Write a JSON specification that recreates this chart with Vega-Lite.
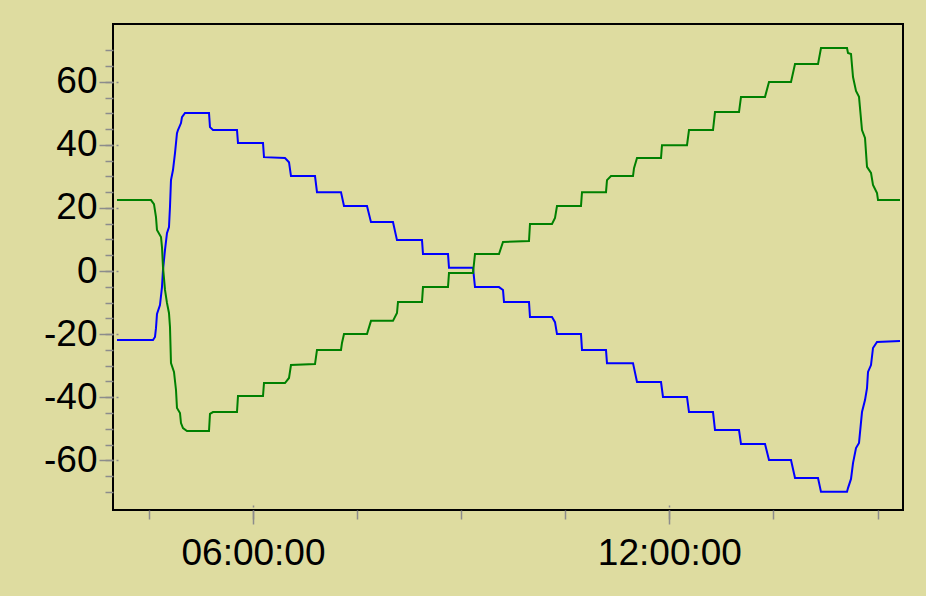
{
  "$schema": "https://vega.github.io/schema/vega-lite/v6.json",
  "width": 790,
  "height": 486,
  "autosize": "none",
  "padding": {"left": 113, "top": 24, "right": 23, "bottom": 86},
  "background": "#dedca0",
  "view": {"stroke": "#000000", "strokeWidth": 2, "fill": "#dedca0"},
  "data": {"values": [
    {"t": "2024-01-01T04:02:25Z", "s": "blue", "v": -21.9},
    {"t": "2024-01-01T04:33:32Z", "s": "blue", "v": -21.9},
    {"t": "2024-01-01T04:35:16Z", "s": "blue", "v": -20.9},
    {"t": "2024-01-01T04:36:08Z", "s": "blue", "v": -18.1},
    {"t": "2024-01-01T04:37:00Z", "s": "blue", "v": -13.6},
    {"t": "2024-01-01T04:39:35Z", "s": "blue", "v": -10.8},
    {"t": "2024-01-01T04:41:19Z", "s": "blue", "v": -5.1},
    {"t": "2024-01-01T04:42:11Z", "s": "blue", "v": 0.3},
    {"t": "2024-01-01T04:43:55Z", "s": "blue", "v": 6.7},
    {"t": "2024-01-01T04:45:38Z", "s": "blue", "v": 12.0},
    {"t": "2024-01-01T04:47:22Z", "s": "blue", "v": 13.9},
    {"t": "2024-01-01T04:48:14Z", "s": "blue", "v": 20.3},
    {"t": "2024-01-01T04:49:06Z", "s": "blue", "v": 28.8},
    {"t": "2024-01-01T04:50:50Z", "s": "blue", "v": 32.0},
    {"t": "2024-01-01T04:52:34Z", "s": "blue", "v": 37.4},
    {"t": "2024-01-01T04:54:17Z", "s": "blue", "v": 43.7},
    {"t": "2024-01-01T04:55:09Z", "s": "blue", "v": 44.7},
    {"t": "2024-01-01T04:57:45Z", "s": "blue", "v": 46.9},
    {"t": "2024-01-01T04:58:37Z", "s": "blue", "v": 48.8},
    {"t": "2024-01-01T05:01:13Z", "s": "blue", "v": 50.1},
    {"t": "2024-01-01T05:21:58Z", "s": "blue", "v": 50.1},
    {"t": "2024-01-01T05:22:49Z", "s": "blue", "v": 45.6},
    {"t": "2024-01-01T05:25:25Z", "s": "blue", "v": 44.7},
    {"t": "2024-01-01T05:46:10Z", "s": "blue", "v": 44.7},
    {"t": "2024-01-01T05:47:02Z", "s": "blue", "v": 40.6},
    {"t": "2024-01-01T06:08:39Z", "s": "blue", "v": 40.6},
    {"t": "2024-01-01T06:09:31Z", "s": "blue", "v": 36.1},
    {"t": "2024-01-01T06:27:40Z", "s": "blue", "v": 35.8},
    {"t": "2024-01-01T06:31:08Z", "s": "blue", "v": 34.5},
    {"t": "2024-01-01T06:32:51Z", "s": "blue", "v": 30.1},
    {"t": "2024-01-01T06:53:37Z", "s": "blue", "v": 30.1},
    {"t": "2024-01-01T06:55:20Z", "s": "blue", "v": 25.0},
    {"t": "2024-01-01T07:16:05Z", "s": "blue", "v": 25.0},
    {"t": "2024-01-01T07:18:41Z", "s": "blue", "v": 20.6},
    {"t": "2024-01-01T07:38:34Z", "s": "blue", "v": 20.6},
    {"t": "2024-01-01T07:42:01Z", "s": "blue", "v": 15.5},
    {"t": "2024-01-01T08:01:02Z", "s": "blue", "v": 15.5},
    {"t": "2024-01-01T08:04:30Z", "s": "blue", "v": 9.8},
    {"t": "2024-01-01T08:26:07Z", "s": "blue", "v": 9.8},
    {"t": "2024-01-01T08:26:59Z", "s": "blue", "v": 5.4},
    {"t": "2024-01-01T08:48:36Z", "s": "blue", "v": 5.4},
    {"t": "2024-01-01T08:49:28Z", "s": "blue", "v": 1.0},
    {"t": "2024-01-01T09:10:13Z", "s": "blue", "v": 1.0},
    {"t": "2024-01-01T09:11:56Z", "s": "blue", "v": -5.1},
    {"t": "2024-01-01T09:32:41Z", "s": "blue", "v": -5.1},
    {"t": "2024-01-01T09:36:09Z", "s": "blue", "v": -6.0},
    {"t": "2024-01-01T09:37:01Z", "s": "blue", "v": -9.8},
    {"t": "2024-01-01T09:58:38Z", "s": "blue", "v": -9.8},
    {"t": "2024-01-01T09:59:29Z", "s": "blue", "v": -14.6},
    {"t": "2024-01-01T10:18:31Z", "s": "blue", "v": -14.6},
    {"t": "2024-01-01T10:21:07Z", "s": "blue", "v": -16.2},
    {"t": "2024-01-01T10:22:50Z", "s": "blue", "v": -20.0},
    {"t": "2024-01-01T10:43:35Z", "s": "blue", "v": -20.0},
    {"t": "2024-01-01T10:44:27Z", "s": "blue", "v": -25.0},
    {"t": "2024-01-01T11:05:12Z", "s": "blue", "v": -25.0},
    {"t": "2024-01-01T11:06:04Z", "s": "blue", "v": -29.2},
    {"t": "2024-01-01T11:28:33Z", "s": "blue", "v": -29.2},
    {"t": "2024-01-01T11:32:01Z", "s": "blue", "v": -35.2},
    {"t": "2024-01-01T11:52:46Z", "s": "blue", "v": -35.2},
    {"t": "2024-01-01T11:54:29Z", "s": "blue", "v": -39.9},
    {"t": "2024-01-01T12:15:14Z", "s": "blue", "v": -39.9},
    {"t": "2024-01-01T12:16:58Z", "s": "blue", "v": -44.7},
    {"t": "2024-01-01T12:37:43Z", "s": "blue", "v": -44.7},
    {"t": "2024-01-01T12:39:27Z", "s": "blue", "v": -50.4},
    {"t": "2024-01-01T13:00:12Z", "s": "blue", "v": -50.4},
    {"t": "2024-01-01T13:01:55Z", "s": "blue", "v": -54.8},
    {"t": "2024-01-01T13:22:41Z", "s": "blue", "v": -54.8},
    {"t": "2024-01-01T13:26:08Z", "s": "blue", "v": -59.9},
    {"t": "2024-01-01T13:45:09Z", "s": "blue", "v": -59.9},
    {"t": "2024-01-01T13:48:37Z", "s": "blue", "v": -65.6},
    {"t": "2024-01-01T14:08:30Z", "s": "blue", "v": -65.6},
    {"t": "2024-01-01T14:11:05Z", "s": "blue", "v": -70.0},
    {"t": "2024-01-01T14:33:34Z", "s": "blue", "v": -70.0},
    {"t": "2024-01-01T14:34:26Z", "s": "blue", "v": -68.8},
    {"t": "2024-01-01T14:37:02Z", "s": "blue", "v": -65.9},
    {"t": "2024-01-01T14:38:46Z", "s": "blue", "v": -60.9},
    {"t": "2024-01-01T14:41:21Z", "s": "blue", "v": -56.1},
    {"t": "2024-01-01T14:43:57Z", "s": "blue", "v": -54.5},
    {"t": "2024-01-01T14:46:32Z", "s": "blue", "v": -44.7},
    {"t": "2024-01-01T14:49:08Z", "s": "blue", "v": -40.9},
    {"t": "2024-01-01T14:50:52Z", "s": "blue", "v": -37.1},
    {"t": "2024-01-01T14:51:44Z", "s": "blue", "v": -32.0},
    {"t": "2024-01-01T14:54:19Z", "s": "blue", "v": -29.8},
    {"t": "2024-01-01T14:56:03Z", "s": "blue", "v": -24.4},
    {"t": "2024-01-01T14:59:31Z", "s": "blue", "v": -22.5},
    {"t": "2024-01-01T15:19:24Z", "s": "blue", "v": -22.2},
    {"t": "2024-01-01T04:02:25Z", "s": "green", "v": 22.5},
    {"t": "2024-01-01T04:31:49Z", "s": "green", "v": 22.5},
    {"t": "2024-01-01T04:34:24Z", "s": "green", "v": 21.2},
    {"t": "2024-01-01T04:36:08Z", "s": "green", "v": 17.1},
    {"t": "2024-01-01T04:37:00Z", "s": "green", "v": 13.0},
    {"t": "2024-01-01T04:40:28Z", "s": "green", "v": 10.8},
    {"t": "2024-01-01T04:41:19Z", "s": "green", "v": 7.6},
    {"t": "2024-01-01T04:42:11Z", "s": "green", "v": 1.3},
    {"t": "2024-01-01T04:43:55Z", "s": "green", "v": -6.0},
    {"t": "2024-01-01T04:45:38Z", "s": "green", "v": -10.1},
    {"t": "2024-01-01T04:47:22Z", "s": "green", "v": -13.3},
    {"t": "2024-01-01T04:48:14Z", "s": "green", "v": -17.7},
    {"t": "2024-01-01T04:49:06Z", "s": "green", "v": -29.2},
    {"t": "2024-01-01T04:51:42Z", "s": "green", "v": -32.0},
    {"t": "2024-01-01T04:53:26Z", "s": "green", "v": -37.7},
    {"t": "2024-01-01T04:54:17Z", "s": "green", "v": -43.4},
    {"t": "2024-01-01T04:56:53Z", "s": "green", "v": -45.0},
    {"t": "2024-01-01T04:57:45Z", "s": "green", "v": -48.2},
    {"t": "2024-01-01T04:59:29Z", "s": "green", "v": -49.8},
    {"t": "2024-01-01T05:02:56Z", "s": "green", "v": -50.7},
    {"t": "2024-01-01T05:21:58Z", "s": "green", "v": -50.7},
    {"t": "2024-01-01T05:22:49Z", "s": "green", "v": -45.3},
    {"t": "2024-01-01T05:25:25Z", "s": "green", "v": -44.7},
    {"t": "2024-01-01T05:46:10Z", "s": "green", "v": -44.7},
    {"t": "2024-01-01T05:47:02Z", "s": "green", "v": -39.6},
    {"t": "2024-01-01T06:08:39Z", "s": "green", "v": -39.6},
    {"t": "2024-01-01T06:09:31Z", "s": "green", "v": -35.5},
    {"t": "2024-01-01T06:27:40Z", "s": "green", "v": -35.5},
    {"t": "2024-01-01T06:31:08Z", "s": "green", "v": -33.9},
    {"t": "2024-01-01T06:32:51Z", "s": "green", "v": -29.8},
    {"t": "2024-01-01T06:53:37Z", "s": "green", "v": -29.5},
    {"t": "2024-01-01T06:55:20Z", "s": "green", "v": -25.0},
    {"t": "2024-01-01T07:16:05Z", "s": "green", "v": -25.0},
    {"t": "2024-01-01T07:16:57Z", "s": "green", "v": -22.8},
    {"t": "2024-01-01T07:18:41Z", "s": "green", "v": -20.0},
    {"t": "2024-01-01T07:38:34Z", "s": "green", "v": -20.0},
    {"t": "2024-01-01T07:42:01Z", "s": "green", "v": -15.8},
    {"t": "2024-01-01T08:01:02Z", "s": "green", "v": -15.8},
    {"t": "2024-01-01T08:04:30Z", "s": "green", "v": -13.3},
    {"t": "2024-01-01T08:05:22Z", "s": "green", "v": -9.8},
    {"t": "2024-01-01T08:26:07Z", "s": "green", "v": -9.8},
    {"t": "2024-01-01T08:26:59Z", "s": "green", "v": -5.1},
    {"t": "2024-01-01T08:48:36Z", "s": "green", "v": -5.1},
    {"t": "2024-01-01T08:49:28Z", "s": "green", "v": -0.6},
    {"t": "2024-01-01T09:10:13Z", "s": "green", "v": -0.6},
    {"t": "2024-01-01T09:11:56Z", "s": "green", "v": 5.4},
    {"t": "2024-01-01T09:32:41Z", "s": "green", "v": 5.4},
    {"t": "2024-01-01T09:36:09Z", "s": "green", "v": 9.2},
    {"t": "2024-01-01T09:58:38Z", "s": "green", "v": 9.5},
    {"t": "2024-01-01T09:59:29Z", "s": "green", "v": 14.9},
    {"t": "2024-01-01T10:18:31Z", "s": "green", "v": 14.9},
    {"t": "2024-01-01T10:21:07Z", "s": "green", "v": 16.8},
    {"t": "2024-01-01T10:22:50Z", "s": "green", "v": 20.6},
    {"t": "2024-01-01T10:43:35Z", "s": "green", "v": 20.6},
    {"t": "2024-01-01T10:44:27Z", "s": "green", "v": 25.0},
    {"t": "2024-01-01T11:05:12Z", "s": "green", "v": 25.0},
    {"t": "2024-01-01T11:06:04Z", "s": "green", "v": 28.8},
    {"t": "2024-01-01T11:09:32Z", "s": "green", "v": 30.1},
    {"t": "2024-01-01T11:28:33Z", "s": "green", "v": 30.1},
    {"t": "2024-01-01T11:29:25Z", "s": "green", "v": 32.6},
    {"t": "2024-01-01T11:32:01Z", "s": "green", "v": 35.8},
    {"t": "2024-01-01T11:52:46Z", "s": "green", "v": 35.8},
    {"t": "2024-01-01T11:53:37Z", "s": "green", "v": 39.9},
    {"t": "2024-01-01T12:15:14Z", "s": "green", "v": 39.9},
    {"t": "2024-01-01T12:16:58Z", "s": "green", "v": 44.7},
    {"t": "2024-01-01T12:37:43Z", "s": "green", "v": 44.7},
    {"t": "2024-01-01T12:39:27Z", "s": "green", "v": 50.4},
    {"t": "2024-01-01T13:00:12Z", "s": "green", "v": 50.4},
    {"t": "2024-01-01T13:01:55Z", "s": "green", "v": 55.2},
    {"t": "2024-01-01T13:22:41Z", "s": "green", "v": 55.2},
    {"t": "2024-01-01T13:26:08Z", "s": "green", "v": 59.9},
    {"t": "2024-01-01T13:45:09Z", "s": "green", "v": 59.9},
    {"t": "2024-01-01T13:48:37Z", "s": "green", "v": 65.6},
    {"t": "2024-01-01T14:08:30Z", "s": "green", "v": 65.6},
    {"t": "2024-01-01T14:11:05Z", "s": "green", "v": 70.7},
    {"t": "2024-01-01T14:33:34Z", "s": "green", "v": 70.7},
    {"t": "2024-01-01T14:34:26Z", "s": "green", "v": 69.1},
    {"t": "2024-01-01T14:37:02Z", "s": "green", "v": 68.8},
    {"t": "2024-01-01T14:38:46Z", "s": "green", "v": 61.5},
    {"t": "2024-01-01T14:41:21Z", "s": "green", "v": 57.1},
    {"t": "2024-01-01T14:43:57Z", "s": "green", "v": 55.2},
    {"t": "2024-01-01T14:46:32Z", "s": "green", "v": 44.7},
    {"t": "2024-01-01T14:49:08Z", "s": "green", "v": 42.2},
    {"t": "2024-01-01T14:50:52Z", "s": "green", "v": 33.0},
    {"t": "2024-01-01T14:54:19Z", "s": "green", "v": 31.1},
    {"t": "2024-01-01T14:56:03Z", "s": "green", "v": 27.3},
    {"t": "2024-01-01T14:59:31Z", "s": "green", "v": 24.7},
    {"t": "2024-01-01T15:00:23Z", "s": "green", "v": 22.5},
    {"t": "2024-01-01T15:19:24Z", "s": "green", "v": 22.5}
  ]},
  "layer": [
    {
      "mark": {"type": "point", "opacity": 0},
      "encoding": {
        "x": {"field": "t", "type": "temporal",
          "scale": {"type": "utc", "domain": [{"year": 2024, "month": 1, "date": 1, "hours": 3, "minutes": 58, "seconds": 58, "utc": true}, {"year": 2024, "month": 1, "date": 1, "hours": 15, "minutes": 21, "seconds": 59, "utc": true}]},
          "axis": {"orient": "bottom", "title": null, "domain": false, "grid": false, "labels": false, "tickSize": 9, "tickWidth": 1.5, "tickColor": "#8c8c8c",
            "values": [
              {"year": 2024, "month": 1, "date": 1, "hours": 4, "minutes": 30, "utc": true},
              {"year": 2024, "month": 1, "date": 1, "hours": 6, "utc": true},
              {"year": 2024, "month": 1, "date": 1, "hours": 7, "minutes": 30, "utc": true},
              {"year": 2024, "month": 1, "date": 1, "hours": 9, "utc": true},
              {"year": 2024, "month": 1, "date": 1, "hours": 10, "minutes": 30, "utc": true},
              {"year": 2024, "month": 1, "date": 1, "hours": 12, "utc": true},
              {"year": 2024, "month": 1, "date": 1, "hours": 13, "minutes": 30, "utc": true},
              {"year": 2024, "month": 1, "date": 1, "hours": 15, "utc": true}
            ]}},
        "y": {"field": "v", "type": "quantitative",
          "scale": {"domain": [-75.75, 78.3], "nice": false, "zero": false},
          "axis": {"orient": "left", "title": null, "domain": false, "grid": false, "labels": false, "tickSize": 8, "tickWidth": 1.5, "tickColor": "#8c8c8c",
            "values": [-70, -65, -60, -55, -50, -45, -40, -35, -30, -25, -20, -15, -10, -5, 0, 5, 10, 15, 20, 25, 30, 35, 40, 45, 50, 55, 60, 65, 70]}}
      }
    },
    {
      "mark": {"type": "point", "opacity": 0},
      "encoding": {
        "x": {"field": "t", "type": "temporal",
          "scale": {"type": "utc"},
          "axis": {"orient": "bottom", "title": null, "domain": false, "grid": false, "labels": false, "tickSize": -2, "offset": -3, "tickWidth": 1.5, "tickColor": "#8c8c8c",
            "values": [
              {"year": 2024, "month": 1, "date": 1, "hours": 6, "utc": true},
              {"year": 2024, "month": 1, "date": 1, "hours": 12, "utc": true}
            ]}},
        "y": {"field": "v", "type": "quantitative",
          "axis": {"orient": "left", "title": null, "domain": false, "grid": false, "labels": false, "tickSize": -2, "offset": -3, "tickWidth": 1.5, "tickColor": "#8c8c8c",
            "values": [-60, -40, -20, 0, 20, 40, 60]}}
      }
    },
    {
      "mark": {"type": "line", "strokeWidth": 2, "interpolate": "linear"},
      "encoding": {
        "x": {"field": "t", "type": "temporal",
          "scale": {"type": "utc"},
          "axis": {"orient": "bottom", "title": null, "domain": false, "grid": false, "tickSize": 14, "tickWidth": 1.5, "tickColor": "#8c8c8c",
            "format": "%H:%M:%S", "labelFont": "Liberation Sans", "labelFontSize": 37, "labelColor": "#000000", "labelPadding": 11, "labelFlush": false, "labelOverlap": false,
            "values": [
              {"year": 2024, "month": 1, "date": 1, "hours": 6, "utc": true},
              {"year": 2024, "month": 1, "date": 1, "hours": 12, "utc": true}
            ]}},
        "y": {"field": "v", "type": "quantitative",
          "axis": {"orient": "left", "title": null, "domain": false, "grid": false, "tickSize": 14, "tickWidth": 1.5, "tickColor": "#8c8c8c",
            "labelExpr": "replace(datum.label, '\u2212', '-')",
            "labelFont": "Liberation Sans", "labelFontSize": 37, "labelColor": "#000000", "labelPadding": 2, "labelFlush": false, "labelOverlap": false,
            "values": [-60, -40, -20, 0, 20, 40, 60]}},
        "color": {"field": "s", "type": "nominal",
          "scale": {"domain": ["blue", "green"], "range": ["#0000ff", "#008000"]},
          "legend": null}
      }
    }
  ],
  "resolve": {"axis": {"x": "independent", "y": "independent"}}
}
